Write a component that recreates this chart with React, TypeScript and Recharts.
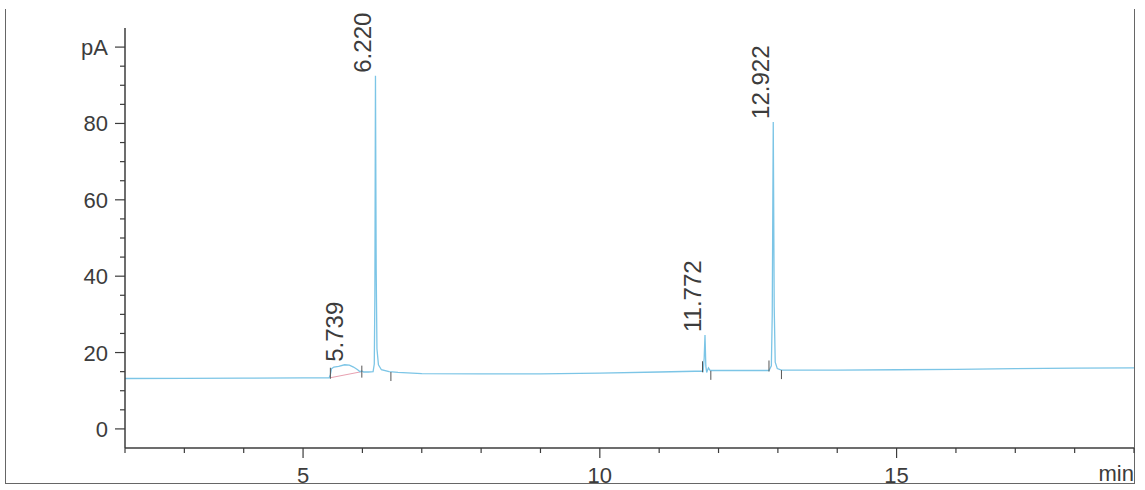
import { ComposedChart, Line, Scatter, XAxis, YAxis } from "recharts";

const FONT = '"Liberation Sans", Arial, sans-serif';
const TRACE = "#7cc5e6";
const INK = "#3c3c3c";

// detector signal, time in min / signal in pA
const traceTime = [
  2.0, 3.0, 4.0, 5.0, 5.44, 5.46, 5.48, 5.52, 5.6, 5.7, 5.78, 5.85, 5.92, 5.96,
  5.99, 6.02, 6.1, 6.18, 6.2, 6.21, 6.22, 6.232, 6.245, 6.27, 6.32, 6.45, 6.6,
  7.0, 8.0, 9.0, 10.0, 11.0, 11.6, 11.72, 11.74, 11.758, 11.772, 11.786, 11.8,
  11.83, 11.86, 12.0, 12.5, 12.85, 12.89, 12.905, 12.922, 12.938, 12.955, 12.99,
  13.06, 14.0, 15.0, 16.0, 17.0, 18.0, 19.0,
];
const traceSignal = [
  13.2, 13.25, 13.3, 13.35, 13.4, 14.2, 15.8, 16.2, 16.4, 16.8, 16.7, 16.2, 15.5,
  15.0, 15.2, 14.9, 14.9, 15.0, 17.0, 35.0, 92.5, 42.0, 21.0, 16.8, 15.5, 15.0,
  14.8, 14.5, 14.4, 14.4, 14.6, 14.9, 15.1, 15.1, 15.0, 18.5, 24.6, 16.5, 14.8,
  16.0, 15.3, 15.3, 15.3, 15.3, 16.5, 30.0, 80.4, 32.0, 17.5, 15.8, 15.4, 15.4,
  15.5, 15.6, 15.8, 15.9, 16.0,
];

// retention times of labelled peaks
const peakTimes = [5.739, 6.22, 11.772, 12.922];
const peakHeights = [16.8, 92.5, 24.6, 80.4];
const peakNames = ["5.739", "6.220", "11.772", "12.922"];

// integration events
const eventTimes = [5.46, 5.99, 6.48, 11.73, 11.87, 12.85, 13.06];
const eventLevels = [13.4, 15.0, 14.9, 15.1, 15.2, 15.3, 15.4];
const eventKinds = ["start", "both", "end", "start", "end", "start", "end"];

// drawn baseline under the first peak
const splitTimes = [5.46, 5.99];
const splitLevels = [13.4, 15.0];

const xTicks = [2, 3, 4, 5, 6, 7, 8, 9, 10, 11, 12, 13, 14, 15, 16, 17, 18, 19];
const xLabelled = [5, 10, 15];
const yTicks = [0, 5, 10, 15, 20, 25, 30, 35, 40, 45, 50, 55, 60, 65, 70, 75, 80, 85, 90, 95, 100];
const yLabelled = [0, 20, 40, 60, 80, 100];

const trace = traceTime.map((t, i) => ({ t, v: traceSignal[i] }));
const peaks = peakTimes.map((t, i) => ({ t, v: peakHeights[i], rtText: peakNames[i] }));
const events = eventTimes.map((t, i) => ({ t, v: eventLevels[i], kind: eventKinds[i] }));
const split = splitTimes.map((t, i) => ({ t, v: splitLevels[i] }));

const YTickMark = (props: any) => {
  const { x, y, payload } = props;
  const major = yLabelled.includes(payload.value);
  return (
    <g>
      <line x1={x - (major ? 10 : 5)} x2={x} y1={y} y2={y} stroke={INK} strokeWidth={1.2} />
      {major && (
        <text x={x - 17} y={y + 8} textAnchor="end" fontSize={22} fontFamily={FONT} fill={INK}>
          {payload.value === 100 ? "pA" : payload.value}
        </text>
      )}
    </g>
  );
};

const XTickMark = (props: any) => {
  const { x, y, payload } = props;
  const major = xLabelled.includes(payload.value);
  return (
    <g>
      <line x1={x} x2={x} y1={y} y2={y + (major ? 10 : 5)} stroke={INK} strokeWidth={1.2} />
      {major && (
        <text x={x} y={y + 35} textAnchor="middle" fontSize={22} fontFamily={FONT} fill={INK}>
          {payload.value}
        </text>
      )}
      {payload.value === 19 && (
        <text x={x} y={y + 33} textAnchor="end" fontSize={22} fontFamily={FONT} fill={INK}>
          min
        </text>
      )}
    </g>
  );
};

const PeakLabel = (props: any) => {
  const { cx, cy, payload } = props;
  const idx = peakTimes.indexOf(payload?.t);
  const text = payload?.rtText ?? (idx >= 0 ? peakNames[idx] : "");
  const x = cx - 4;
  const y = cy - 3;
  return (
    <text
      x={x}
      y={y}
      transform={`rotate(-90 ${x} ${y})`}
      textAnchor="start"
      fontSize={24}
      fontFamily={FONT}
      fill={INK}
    >
      {text}
    </text>
  );
};

const EventMark = (props: any) => {
  const { cx, cy, payload } = props;
  let y1 = cy - 6;
  let y2 = cy + 6;
  if (payload.kind === "start") {
    y1 = cy - 10;
    y2 = cy + 1;
  } else if (payload.kind === "end") {
    y1 = cy;
    y2 = cy + 9;
  }
  return <line x1={cx} x2={cx} y1={y1} y2={y2} stroke="#555" strokeWidth={1} />;
};

export default function App() {
  return (
    <div
      style={{
        position: "absolute",
        left: 0,
        top: 0,
        width: 1145,
        height: 490,
        background: "#fff",
        overflow: "hidden",
      }}
    >
      <div
        style={{
          position: "absolute",
          left: 5,
          top: 9,
          width: 1128,
          height: 474,
          borderLeft: "1.5px solid #666",
          borderRight: "1.5px solid #666",
          borderBottom: "1.5px solid #666",
        }}
      />
      <div style={{ position: "absolute", left: 0, top: 0 }}>
        <ComposedChart width={1145} height={490} margin={{ top: 28, right: 11, bottom: 0, left: 0 }}>
          <XAxis
            type="number"
            dataKey="t"
            domain={[2, 19]}
            ticks={xTicks}
            interval={0}
            height={42}
            tickSize={0}
            tickMargin={0}
            tickLine={false}
            tick={XTickMark}
            axisLine={{ stroke: INK, strokeWidth: 1.5 }}
          />
          <YAxis
            type="number"
            domain={[-5, 105]}
            ticks={yTicks}
            interval={0}
            width={125}
            tickSize={0}
            tickMargin={0}
            tickLine={false}
            tick={YTickMark}
            axisLine={{ stroke: INK, strokeWidth: 1.5 }}
          />
          <Line
            data={split}
            dataKey="v"
            type="linear"
            stroke="#e8a0b0"
            strokeWidth={1}
            dot={false}
            isAnimationActive={false}
          />
          <Line
            data={trace}
            dataKey="v"
            type="linear"
            stroke={TRACE}
            strokeWidth={1.3}
            dot={false}
            isAnimationActive={false}
          />
          <Scatter data={events} dataKey="v" shape={EventMark} isAnimationActive={false} />
          <Scatter data={peaks} dataKey="v" shape={PeakLabel} isAnimationActive={false} />
        </ComposedChart>
      </div>
    </div>
  );
}
